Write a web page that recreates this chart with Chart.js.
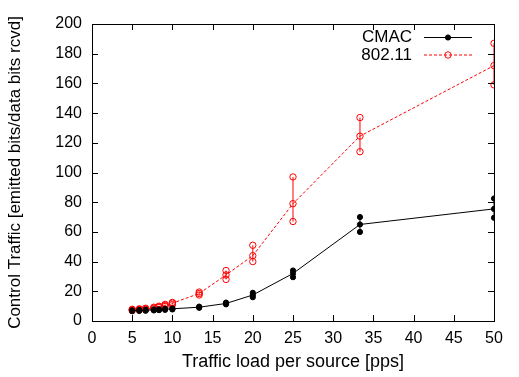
<!DOCTYPE html>
<html>
<head>
<meta charset="utf-8">
<script src="https://cdn.jsdelivr.net/npm/chart.js@4"></script>
<style>
  html, body { margin: 0; padding: 0; background: #fff; }
</style>
</head>
<body>
<canvas id="ctrlChart" width="519" height="377"></canvas>
<script>
// traffic load per source (pps)
const xValues = [5, 5.88, 6.67, 7.69, 8.33, 9.09, 10, 13.33, 16.67, 20, 25, 33.33, 50];

// CMAC: mean, min, max
const cmacMean = [7, 7.2, 7.3, 7.5, 7.7, 7.9, 8.2, 9.3, 11.8, 17.5, 32, 65, 75.5];
const cmacMin  = [6.6, 6.8, 6.9, 7.1, 7.3, 7.5, 7.8, 8.9, 11.2, 16, 29.5, 60, 69.5];
const cmacMax  = [7.4, 7.6, 7.7, 7.9, 8.1, 8.3, 8.6, 9.7, 12.4, 19, 34, 70, 82.5];

// 802.11: mean, min, max
const wlanMean = [7.5, 7.8, 8.2, 8.8, 9.5, 10.5, 12, 18.5, 31, 44, 79, 124.5, 172];
const wlanMin  = [7.1, 7.4, 7.8, 8.3, 9, 9.8, 11, 17.5, 28, 40, 67, 114, 159];
const wlanMax  = [7.9, 8.2, 8.6, 9.3, 10, 11.2, 12.5, 19.5, 34, 51, 97, 137, 187];

const xTicks = [0, 5, 10, 15, 20, 25, 30, 35, 40, 45, 50];
const yTicks = [0, 20, 40, 60, 80, 100, 120, 140, 160, 180, 200];

const seriesNames = ['CMAC', '802.11'];

function pts(ys) {
    return xValues.map((x, i) => ({ x: x, y: ys[i] }));
}

const FONT = '"Liberation Sans", Arial, Helvetica, sans-serif';
Chart.defaults.font.family = FONT;
Chart.defaults.color = '#000';

const cmacStyle = { borderColor: '#000', backgroundColor: '#000', pointRadius: 2.6, pointBorderWidth: 1 };
const wlanStyle = { borderColor: '#f00', backgroundColor: 'rgba(0,0,0,0)', pointRadius: 3.2, pointBorderWidth: 1 };

// vertical error bars between min and max
const errorBars = {
    id: 'errorBars',
    beforeDatasetsDraw(chart) {
        const ctx = chart.ctx;
        const xs = chart.scales.x, ys = chart.scales.y;
        const sets = [[cmacMin, cmacMax, '#000'], [wlanMin, wlanMax, '#f00']];
        ctx.save();
        sets.forEach(s => {
            ctx.strokeStyle = s[2];
            ctx.lineWidth = 1;
            xValues.forEach((x, i) => {
                const px = xs.getPixelForValue(x);
                ctx.beginPath();
                ctx.moveTo(px, ys.getPixelForValue(s[0][i]));
                ctx.lineTo(px, ys.getPixelForValue(s[1][i]));
                ctx.stroke();
            });
        });
        ctx.restore();
    }
};

// box, inward ticks, legend in the corner
const frame = {
    id: 'frame',
    afterDraw(chart) {
        const ctx = chart.ctx;
        const a = chart.chartArea;
        const xs = chart.scales.x, ys = chart.scales.y;
        ctx.save();
        ctx.strokeStyle = '#000';
        ctx.lineWidth = 1;
        ctx.strokeRect(Math.round(a.left) + 0.5, Math.round(a.top) + 0.5,
            Math.round(a.right - a.left), Math.round(a.bottom - a.top));
        ctx.beginPath();
        xTicks.forEach(v => {
            const px = Math.round(xs.getPixelForValue(v)) + 0.5;
            ctx.moveTo(px, a.bottom); ctx.lineTo(px, a.bottom - 6);
            ctx.moveTo(px, a.top); ctx.lineTo(px, a.top + 6);
        });
        yTicks.forEach(v => {
            const py = Math.round(ys.getPixelForValue(v)) + 0.5;
            ctx.moveTo(a.left, py); ctx.lineTo(a.left + 6, py);
            ctx.moveTo(a.right, py); ctx.lineTo(a.right - 6, py);
        });
        ctx.stroke();

        // legend
        ctx.font = '17px ' + FONT;
        ctx.textAlign = 'right';
        ctx.textBaseline = 'middle';
        const styles = [cmacStyle, wlanStyle];
        seriesNames.forEach((name, i) => {
            const y = 37.5 + i * 17.5;
            ctx.fillStyle = '#000';
            ctx.fillText(name, 412, y);
            ctx.strokeStyle = styles[i].borderColor;
            ctx.setLineDash(i === 1 ? [3, 2] : []);
            ctx.beginPath();
            ctx.moveTo(424, y); ctx.lineTo(472, y);
            ctx.stroke();
            ctx.setLineDash([]);
            ctx.beginPath();
            ctx.arc(448, y, styles[i].pointRadius, 0, Math.PI * 2);
            if (i === 0) { ctx.fillStyle = '#000'; ctx.fill(); }
            ctx.stroke();
        });
        ctx.restore();
    }
};

function marks(ys, style) {
    return Object.assign({
        data: pts(ys), showLine: false, pointStyle: 'circle',
        pointBackgroundColor: style.backgroundColor, pointBorderColor: style.borderColor
    }, style);
}

new Chart(document.getElementById('ctrlChart'), {
    type: 'line',
    data: {
        datasets: [
            Object.assign({ label: seriesNames[0], data: pts(cmacMean), borderWidth: 1, tension: 0,
                pointBackgroundColor: '#000' }, cmacStyle),
            Object.assign({ label: seriesNames[1], data: pts(wlanMean), borderWidth: 1, tension: 0,
                borderDash: [3, 2] }, wlanStyle),
            marks(cmacMin, cmacStyle), marks(cmacMax, cmacStyle),
            marks(wlanMin, wlanStyle), marks(wlanMax, wlanStyle)
        ]
    },
    options: {
        responsive: false,
        animation: false,
        layout: { padding: { left: 0, right: 25, top: 24, bottom: 0 } },
        plugins: { legend: { display: false }, tooltip: { enabled: false } },
        scales: {
            x: {
                type: 'linear', min: 0, max: 50,
                grid: { display: false, drawTicks: false }, border: { display: false },
                ticks: { stepSize: 5, font: { size: 16 }, padding: 8, maxRotation: 0 },
                title: { display: true, text: 'Traffic load per source [pps]', font: { size: 18 }, padding: { top: 0, bottom: 4 } },
                afterFit(scale) { scale.height = 56; }
            },
            y: {
                min: 0, max: 200,
                grid: { display: false, drawTicks: false }, border: { display: false },
                ticks: { stepSize: 20, font: { size: 16 }, padding: 10 },
                title: { display: true, text: 'Control Traffic [emitted bits/data bits rcvd]', font: { size: 17 }, padding: { top: 5, bottom: 0 } },
                afterFit(scale) { scale.width = 92; }
            }
        }
    },
    plugins: [errorBars, frame]
});
</script>
</body>
</html>
